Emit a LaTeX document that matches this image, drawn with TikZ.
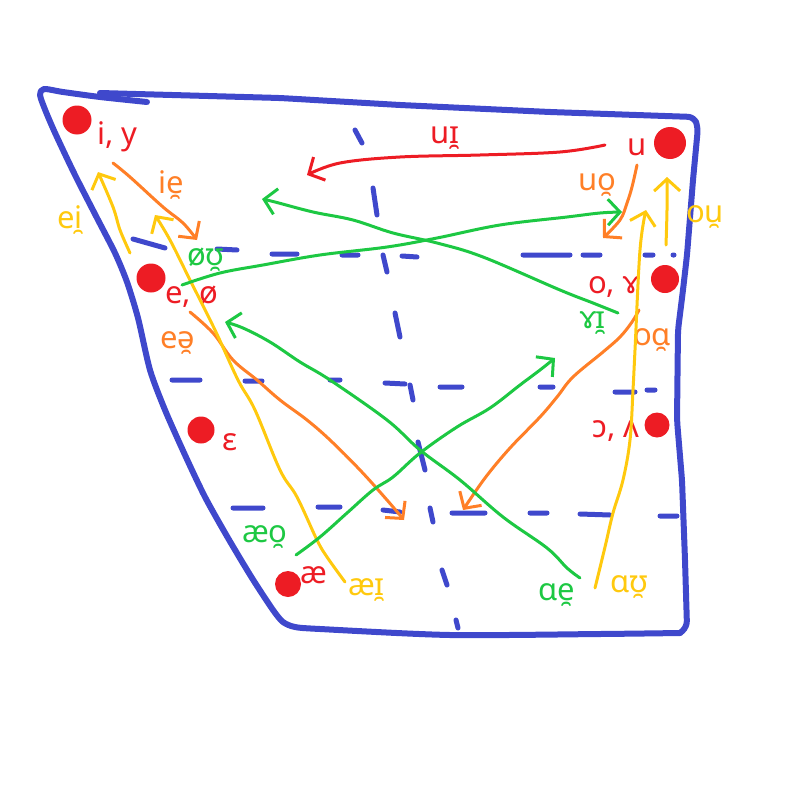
\documentclass[tikz,border=0pt]{standalone}
\usepackage{fontspec}
\setmainfont{Noto Sans}
\usetikzlibrary{arrows.meta}
\definecolor{cred}{HTML}{ED1C24}
\definecolor{corange}{HTML}{FF7F27}
\definecolor{cyellow}{HTML}{FFC90E}
\definecolor{cgreen}{HTML}{1DC843}
\definecolor{cblue}{HTML}{3F48CC}
\begin{document}
\begin{tikzpicture}[x=1pt,y=-1pt,line cap=round,line join=round,
  outline/.style={draw=cblue,line width=6pt},
  dsh/.style={draw=cblue,line width=5pt},
  arr/.style={line width=3pt,-{Straight Barb[length=12pt,width=26pt,line width=3pt]}},
  lbl/.style={font=\fontsize{31}{31}\selectfont,inner sep=0pt,anchor=base west},
  dot/.style={circle,fill=cred,inner sep=0pt,minimum size=29pt}]
\useasboundingbox (0,0) rectangle (800,800);
% outline
\draw[outline] plot[smooth,tension=0.45] coordinates {(147,102) (100,97) (63,92) (44,89) (40,95) (46,112) (56,135) (75,175) (97,218) (115,253) (127,282) (138,318) (150,370) (165,410) (185,455) (205,497) (228,538) (252,578) (273,610) (283,622) (295,627) (320,629) (450,635) (600,634) (680,633)};
\draw[outline,rounded corners=6pt] (680,633) -- (687,627) -- (685,560) -- (682,480) -- (677,420) -- (678,330) -- (683,290) -- (687,255) -- (693,180) -- (698,127) -- (694,117) -- (550,112) -- (400,105) -- (280,98) -- (100,93);
% dashed guides
\draw[dsh] (133,239)--(165,248) (217,249)--(237,250) (272,254)--(297,254) (342,255)--(358,255) (402,256)--(417,257) (523,255)--(570,255) (583,255)--(600,255) (645,255)--(653,255) (673,255)--(674,255);
\draw[dsh] (172,380)--(200,380) (245,381)--(262,381) (330,380)--(340,380) (385,383)--(405,384) (440,387)--(462,387) (540,387)--(553,387) (615,392)--(635,392) (647,390)--(655,390);
\draw[dsh] (233,508)--(263,508) (318,507)--(340,507) (383,510)--(400,512) (452,513)--(485,513) (530,513)--(547,513) (580,514)--(610,515) (660,516)--(677,516);
\draw[dsh] (355,130)--(362,143) (373,188)--(377,215) (383,255)--(387,272) (395,313)--(400,337) (410,385)--(413,400) (418,442)--(425,470) (430,508)--(433,522) (442,570)--(447,585) (456,620)--(458,628);
% vowel dots
\node[dot] (iy) at (77,120) {};
\node[dot,minimum size=32pt] (u) at (670,143) {};
\node[dot] (eo) at (151,278) {};
\node[dot,minimum size=28pt] (oy) at (665,279) {};
\node[dot,minimum size=27pt] (eps) at (201,430) {};
\node[dot,minimum size=25pt] (vc) at (657,425) {};
\node[dot,minimum size=26pt] (ae) at (288,584) {};
% red labels
\node[lbl,text=cred] (Liy) at (97,144) {i, y};
\node[lbl,text=cred] (Lu) at (627,155) {u};
\node[lbl,text=cred] (Leo) at (165,303) {e, ø};
\node[lbl,text=cred] (Loy) at (588,293) {o, ɤ};
\node[lbl,text=cred] (Leps) at (222,450) {ɛ};
\node[lbl,text=cred] (Lvc) at (592,437) {ɔ, ʌ};
\node[lbl,text=cred] (Lae) at (300,583) {æ};
\node[lbl,text=cred] (Lui) at (430,143) {uɪ̯};
% orange labels
\node[lbl,text=corange] (Lie) at (158,193) {ie̯};
\node[lbl,text=corange] (Luo) at (578,190) {uo̯};
\node[lbl,text=corange] (Lea) at (160,348) {eə̯};
\node[lbl,text=corange] (Loa) at (633,345) {oɑ̯};
% yellow labels
\node[lbl,text=cyellow] (Lei) at (57,228) {ei̯};
\node[lbl,text=cyellow] (Lou) at (686,222) {ou̯};
\node[lbl,text=cyellow] (Laei) at (348,595) {æɪ̯};
\node[lbl,text=cyellow] (Lau) at (610,592) {ɑʊ̯};
% green labels
\node[lbl,text=cgreen] (Lou2) at (187,265) {øʊ̯};
\node[lbl,text=cgreen] (Lyi) at (580,328) {ɤɪ̯};
\node[lbl,text=cgreen] (Laeo) at (242,542) {æo̯};
\node[lbl,text=cgreen] (Lae2) at (538,600) {ɑe̯};
% red arrow
\draw[arr,cred] plot[smooth,tension=0.6] coordinates {(605,145) (560,152) (480,155) (400,157) (340,163) (307,175)};
% orange arrows
\draw[arr,corange] plot[smooth,tension=0.6] coordinates {(113,163) (130,177) (163,207) (183,223) (197,240)};
\draw[arr,corange] plot[smooth,tension=0.6] coordinates {(637,165) (632,187) (627,203) (620,220) (603,238)};
\draw[arr,corange] plot[smooth,tension=0.6] coordinates {(190,312) (213,333) (233,360) (257,380) (280,400) (307,420) (330,440) (360,470) (387,500) (404,520)};
\draw[arr,corange] plot[smooth,tension=0.6] coordinates {(639,310) (632,322) (620,337) (603,352) (573,377) (557,397) (540,417) (510,448) (485,478) (463,510)};
% yellow arrows
\draw[arr,cyellow] plot[smooth,tension=0.6] coordinates {(130,253) (120,230) (113,207) (98,172)};
\draw[arr,cyellow] plot[smooth,tension=0.6] coordinates {(345,582) (327,557) (317,540) (297,497) (280,470) (255,410) (238,380) (215,330) (190,280) (170,240) (155,215)};
\draw[arr,cyellow] plot[smooth,tension=0.6] coordinates {(595,588) (605,547) (613,513) (623,480) (630,440) (633,390) (635,350) (640,250) (646,210)};
\draw[arr,cyellow] plot[smooth,tension=0.6] coordinates {(666,245) (667,210) (667,177)};
% green arrows
\draw[arr,cgreen] plot[smooth,tension=0.6] coordinates {(182,285) (220,273) (263,265) (320,255) (387,247) (437,238) (500,225) (567,217) (600,213) (622,212)};
\draw[arr,cgreen] plot[smooth,tension=0.6] coordinates {(618,313) (593,303) (560,290) (483,257) (437,243) (393,233) (353,220) (313,212) (275,202) (262,199)};
\draw[arr,cgreen] plot[smooth,tension=0.6] coordinates {(296,555) (320,537) (347,513) (373,490) (393,477) (420,453) (457,427) (490,408) (520,385) (540,370) (555,358)};
\draw[arr,cgreen] plot[smooth,tension=0.6] coordinates {(580,578) (567,568) (547,548) (503,517) (460,480) (420,450) (387,420) (330,380) (300,362) (270,342) (243,328) (225,322)};
\end{tikzpicture}
\end{document}
